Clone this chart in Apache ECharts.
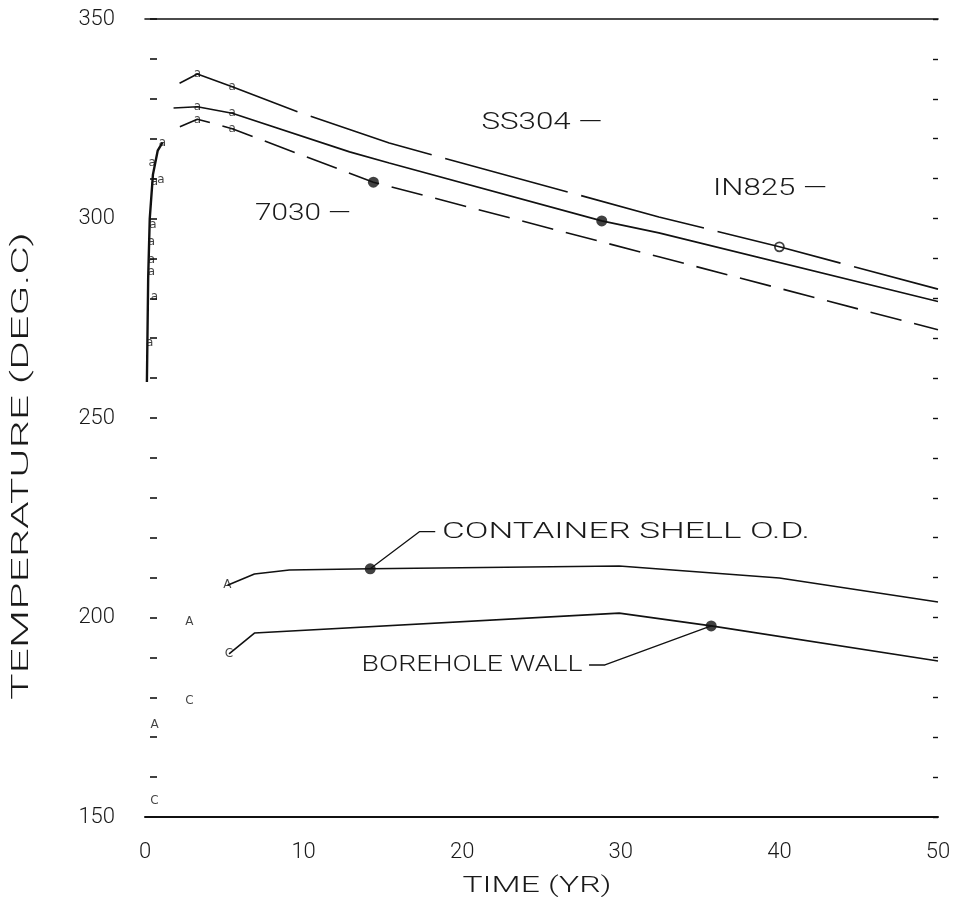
<!DOCTYPE html>
<html>
<head>
<meta charset="utf-8">
<script src="https://cdn.jsdelivr.net/npm/echarts@6/dist/echarts.min.js"></script>
<style>html,body{margin:0;padding:0;background:#fff}#c{width:956px;height:907px}</style>
</head>
<body>
<div id="c"></div>
<script>
// ---- data (time in years, temperature in deg C) ----
const xTicks = [0, 10, 20, 30, 40, 50];
const yTickLabels = [150, 200, 250, 300, 350];

const ss304Curve = [[1.9,333.3],[3.3,336.2],[5.5,333.0],[9.8,326.5],[15.4,318.9],[32.4,300.4],[40,292.9],[50,282.3]];
const in825Curve = [[1.8,327.7],[3.3,328.0],[5.5,326.4],[12.9,316.7],[15.4,313.9],[28.8,299.4],[32.4,296.4],[50,279.2]];
const c7030Curve = [[2.2,323.0],[3.3,324.9],[5.5,322.5],[14.4,309.1],[32.4,290.4],[50,272.1]];
const transientCurve = [[0.12,259],[0.2,285],[0.3,300],[0.5,311],[0.8,317],[1.1,319]];
const containerCurve = [[5.2,208.1],[6.9,210.9],[9.1,211.9],[14.2,212.2],[29.9,212.9],[40,209.9],[50,203.9]];
const boreholeCurve = [[5.3,190.9],[6.9,196.1],[29.9,201.1],[35.7,197.9],[50,189.1]];

const filledMarkers = [[14.4,309.1],[28.8,299.4],[14.2,212.2],[35.7,197.9]];
const openMarkers = [[40,292.9]];

const containerLeader = [[14.2,212.2],[17.3,221.5],[18.3,221.5]];
const boreholeLeader = [[35.7,197.9],[29.0,188.1],[28.0,188.1]];

const letterA = [[0.6,173.1],[2.8,198.9],[5.2,208.1]];
const letterC = [[0.6,154.0],[2.8,179.1],[5.3,190.9]];
const lettera = [[3.3,336.2],[5.5,333.0],[3.3,328.0],[5.5,326.4],[3.3,324.7],[5.5,322.5],
                 [1.1,318.9],[0.45,313.9],[0.6,309.3],[1.0,309.7],[0.5,298.4],[0.4,294.1],
                 [0.4,289.6],[0.4,286.6],[0.6,280.3],[0.3,268.8]];

// ---- chart ----
const INK = '#111';
const TXT = '#1a1a1a';
const FONT = 'Roboto';
const FW = 300;
const chart = echarts.init(document.getElementById('c'), null, {renderer:'canvas'});

const mctx = document.createElement('canvas').getContext('2d');
function stretched(str, cx, cy, width, size, rot) {
  const f = FW + ' ' + size + 'px ' + FONT;
  mctx.font = f;
  const w = mctx.measureText(str).width;
  return {
    type: 'text', x: cx, y: cy, rotation: rot || 0, scaleX: width / w, scaleY: 1,
    style: {text: str, font: f, fill: TXT,
            align: 'center', verticalAlign: 'middle', textAlign: 'center', textVerticalAlign: 'middle'}
  };
}

function line(data, dash, width, offset) {
  return {type:'line', data, symbol:'none', animation:false, silent:true,
    lineStyle:{color:INK, width: width || 1.6, type: dash || 'solid', dashOffset: offset || 0}};
}
function letters(data, ch) {
  return {type:'scatter', data, symbolSize:1, animation:false, silent:true,
    itemStyle:{color:'rgba(0,0,0,0)'},
    label:{show:true, position:'inside', formatter:ch, fontSize:12, fontFamily:'DejaVu Sans', color:INK}};
}

const option = {
  backgroundColor:'#fff',
  animation:false,
  grid:{left:145, right:18, top:19, bottom:90, containLabel:false},
  xAxis:[{
    type:'value', min:0, max:50, interval:10, position:'bottom',
    axisLine:{show:true, onZero:false, lineStyle:{color:INK, width:2}},
    axisTick:{show:false}, splitLine:{show:false},
    axisLabel:{margin:24, fontSize:22, fontFamily:FONT, fontWeight:FW, color:TXT,
      formatter: v => xTicks.includes(v) ? String(v) : ''}
  },{
    type:'value', min:0, max:50, position:'top',
    axisLine:{show:true, onZero:false, lineStyle:{color:INK, width:1.6}},
    axisTick:{show:false}, axisLabel:{show:false}, splitLine:{show:false}
  }],
  yAxis:[{
    type:'value', min:150, max:350, interval:10, position:'left', offset:-5,
    axisLine:{show:false, onZero:false},
    axisTick:{show:true, inside:true, length:7, lineStyle:{color:INK, width:1.6}},
    splitLine:{show:false},
    axisLabel:{margin:35, fontSize:22, fontFamily:FONT, fontWeight:FW, color:TXT,
      formatter: v => yTickLabels.includes(v) ? String(v) : ''}
  },{
    type:'value', min:150, max:350, interval:10, position:'right',
    axisLine:{show:false, onZero:false},
    axisTick:{show:true, inside:true, length:5, lineStyle:{color:INK, width:1.4}},
    axisLabel:{show:false}, splitLine:{show:false}
  }],
  series:[
    line(ss304Curve, [127,14], 1.6, 136),
    line(in825Curve, 'solid'),
    line(c7030Curve, [32,13]),
    line(transientCurve, 'solid', 2.4),
    line(containerCurve, 'solid'),
    line(boreholeCurve, 'solid'),
    line(containerLeader, 'solid', 1.3),
    line(boreholeLeader, 'solid', 1.3),
    {type:'scatter', data:filledMarkers, symbol:'circle', symbolSize:11, animation:false, silent:true,
      itemStyle:{color:INK}},
    {type:'scatter', data:openMarkers, symbol:'circle', symbolSize:9, animation:false, silent:true,
      itemStyle:{color:'#fff', borderColor:INK, borderWidth:1.8}},
    letters(letterA, 'A'),
    letters(letterC, 'C'),
    letters(lettera, 'a')
  ],
  graphic:[
    stretched('SS304 —', 542, 123, 121, 23),
    stretched('IN825 —', 770, 189, 114, 23),
    stretched('7030 —', 303, 214, 96, 23),
    stretched('CONTAINER SHELL O.D.', 626, 532, 368, 22),
    stretched('BOREHOLE WALL', 472, 665, 221, 22),
    stretched('TIME (YR)', 537, 886, 149, 22),
    stretched('TEMPERATURE (DEG.C)', 22, 466, 468, 24, Math.PI/2)
  ]
};
chart.setOption(option);
</script>
</body>
</html>
